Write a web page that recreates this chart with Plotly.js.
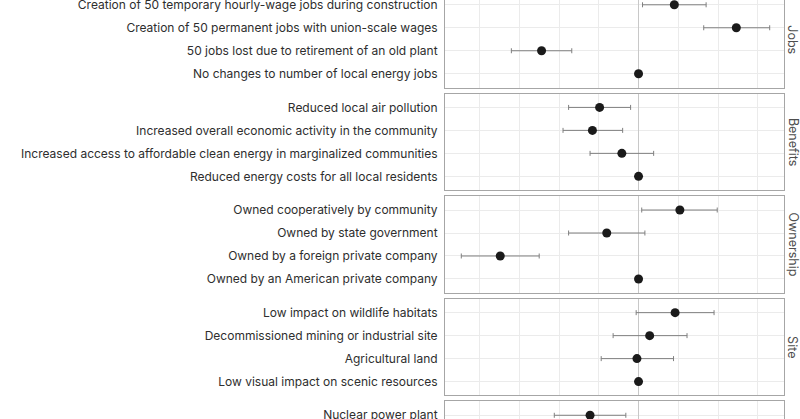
<!DOCTYPE html>
<html>
<head>
<meta charset="utf-8">
<script src="https://cdn.plot.ly/plotly-3.0.1.min.js"></script>
<style>
html,body{margin:0;padding:0;overflow:hidden;background:#fff;width:800px;height:419px;}
#chart{position:absolute;left:0;top:-19px;width:800px;height:547px;}
</style>
</head>
<body>
<div id="chart"></div>
<script>
// Facets
const facets = ["Jobs", "Benefits", "Ownership", "Site", "Energy"];

// Attribute levels (top to bottom within each facet)
const jobsLevels = ["Creation of 50 temporary hourly-wage jobs during construction",
  "Creation of 50 permanent jobs with union-scale wages",
  "50 jobs lost due to retirement of an old plant",
  "No changes to number of local energy jobs"];
const jobsEst = [0.045, 0.123, -0.122, 0];
const jobsLo  = [0.005, 0.082, -0.160, null];
const jobsHi  = [0.085, 0.165, -0.084, null];

const benefitsLevels = ["Reduced local air pollution",
  "Increased overall economic activity in the community",
  "Increased access to affordable clean energy in marginalized communities",
  "Reduced energy costs for all local residents"];
const benefitsEst = [-0.049, -0.058, -0.021, 0];
const benefitsLo  = [-0.088, -0.095, -0.061, null];
const benefitsHi  = [-0.010, -0.020, 0.019, null];

const ownershipLevels = ["Owned cooperatively by community",
  "Owned by state government",
  "Owned by a foreign private company",
  "Owned by an American private company"];
const ownershipEst = [0.052, -0.040, -0.174, 0];
const ownershipLo  = [0.004, -0.088, -0.223, null];
const ownershipHi  = [0.099, 0.008, -0.125, null];

const siteLevels = ["Low impact on wildlife habitats",
  "Decommissioned mining or industrial site",
  "Agricultural land",
  "Low visual impact on scenic resources"];
const siteEst = [0.046, 0.014, -0.002, 0];
const siteLo  = [-0.003, -0.032, -0.047, null];
const siteHi  = [0.095, 0.061, 0.044, null];

const energyLevels = ["Nuclear power plant"];
const energyEst = [-0.061];
const energyLo  = [-0.106];
const energyHi  = [-0.016];

const groups = [
  [jobsLevels, jobsEst, jobsLo, jobsHi],
  [benefitsLevels, benefitsEst, benefitsLo, benefitsHi],
  [ownershipLevels, ownershipEst, ownershipLo, ownershipHi],
  [siteLevels, siteEst, siteLo, siteHi],
  [energyLevels, energyEst, energyLo, energyHi]
];

const xRange = [-0.2435, 0.183];
const xGrid = [-0.2, -0.15, -0.1, -0.05, 0, 0.05, 0.1, 0.15];

// geometry (pixels within plot area)
const plotH = 506.9, period = 102.6, panelH = 96.5;

const traces = [];
const layout = {
  width: 800, height: 547,
  margin: {l: 445, r: 16, t: 10, b: 30},
  paper_bgcolor: "#fff", plot_bgcolor: "#fff",
  showlegend: false,
  font: {family: "Inter, 'Noto Sans', sans-serif", size: 12, color: "#2e2e2e"},
  annotations: []
};

groups.forEach((g, k) => {
  const [levels, est, lo, hi] = g;
  const sfx = k === 0 ? "" : String(k + 1);
  const xa = "x" + sfx, ya = "y" + sfx;
  traces.push({
    type: "scatter", mode: "markers",
    x: est, y: levels, xaxis: xa, yaxis: ya,
    marker: {color: "#1a1a1a", size: 9},
    error_x: {
      type: "data", symmetric: false,
      array: est.map((v, i) => hi[i] === null ? 0 : hi[i] - v),
      arrayminus: est.map((v, i) => lo[i] === null ? 0 : v - lo[i]),
      color: "#7f7f7f", thickness: 1, width: 2.5,
      visible: true
    },
    hoverinfo: "x+y", cliponaxis: false
  });
  const top = period * k, bot = top + panelH;
  const d = [1 - bot / plotH, 1 - top / plotH];
  layout["yaxis" + sfx] = {
    domain: d, anchor: xa, type: "category",
    categoryarray: levels, range: [3.6, -0.6],
    showgrid: true, gridcolor: "#ebebeb", gridwidth: 1,
    showline: true, mirror: true, linecolor: "#a6a6a6", linewidth: 1,
    ticks: "", ticklabelstandoff: 4,
    tickfont: {size: 12, color: "#2e2e2e"},
    zeroline: false, fixedrange: true
  };
  layout["xaxis" + sfx] = {
    anchor: ya, range: xRange,
    tickmode: "array", tickvals: xGrid, showticklabels: false, ticks: "",
    showgrid: true, gridcolor: "#ebebeb", gridwidth: 1,
    zeroline: true, zerolinecolor: "#c8c8c8", zerolinewidth: 1,
    showline: true, mirror: true, linecolor: "#a6a6a6", linewidth: 1,
    fixedrange: true
  };
  if (k > 0) layout["xaxis" + sfx].matches = "x";
  layout.annotations.push({
    text: facets[k], xref: "paper", yref: "paper",
    x: 1 + 9 / 339, y: (d[0] + d[1]) / 2,
    xanchor: "center", yanchor: "middle", textangle: 90,
    showarrow: false, font: {size: 12.5, color: "#4d4d4d"}
  });
});

Plotly.newPlot("chart", traces, layout, {staticPlot: true, displayModeBar: false});
</script>
</body>
</html>
